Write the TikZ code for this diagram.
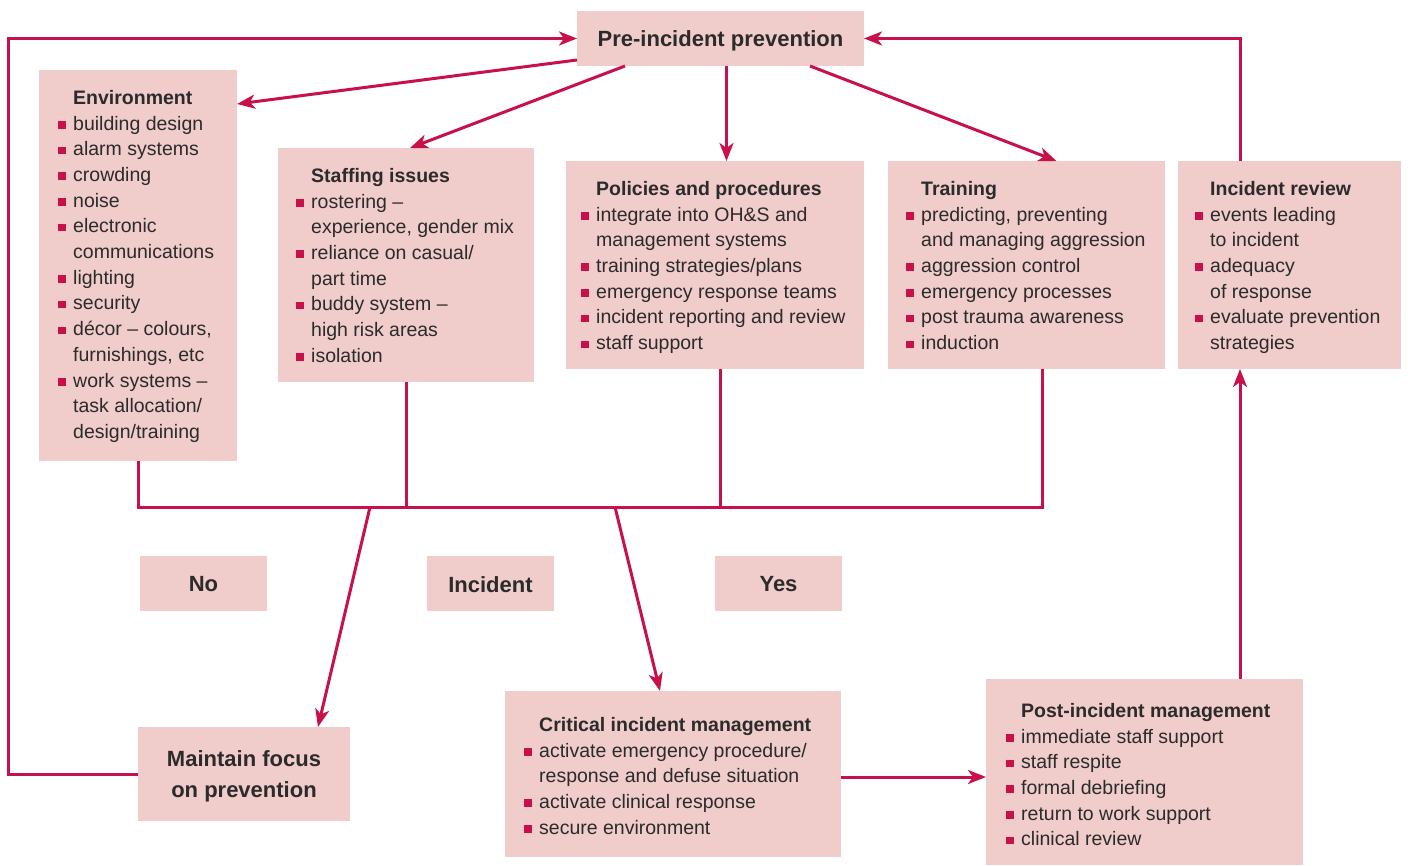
\documentclass[tikz,border=0pt]{standalone}
\usepackage{fontspec}
\setmainfont{Liberation Sans}
\usetikzlibrary{arrows.meta,fit,calc}
\definecolor{crim}{HTML}{C8104A}
\definecolor{pinkbox}{HTML}{F0CCCA}
\definecolor{ink}{HTML}{2B2B2B}
\newcommand{\bu}{\makebox[15pt][l]{\textcolor{crim}{\rule[1.5pt]{7.5pt}{7.5pt}}}}
\newcommand{\ii}{\makebox[15pt][l]{}}
\tikzset{
  box/.style={fill=pinkbox, draw=none, inner sep=0pt, outer sep=0pt},
  txt/.style={anchor=north west, align=left, inner sep=0pt, text=ink,
    font=\fontsize{19.5}{25.7}\selectfont},
  big/.style={text=ink, font=\fontsize{22}{31}\selectfont\bfseries, align=center},
  link/.style={draw=crim, line width=3pt},
  arr/.style={link, -{Stealth[length=18pt,width=14pt,inset=5pt]}},
}
\begin{document}
\begin{tikzpicture}[x=1pt,y=-1pt]
\useasboundingbox (0,0) rectangle (1408,866);
% boxes
\node[box, fit={(577,11)(864,66)}] (pre) {};
\node[big] (preT) at ([yshift=-2pt]pre.center) {Pre-incident prevention};
\node[box, fit={(39,70)(237,461)}] (env) {};
\node[box, fit={(278,148)(534,382)}] (staff) {};
\node[box, fit={(566,161)(864,369)}] (pol) {};
\node[box, fit={(888,161)(1165,369)}] (train) {};
\node[box, fit={(1178,161)(1401,369)}] (rev) {};
\node[box, fit={(140,556)(267,611)}] (no) {};
\node[big] (noT) at ([yshift=-1pt]no.center) {No};
\node[box, fit={(427,556)(554,611)}] (inc) {};
\node[big] (incT) at ([yshift=-1pt]inc.center) {Incident};
\node[box, fit={(715,556)(842,611)}] (yes) {};
\node[big] (yesT) at ([yshift=-1pt]yes.center) {Yes};
\node[box, fit={(138,727)(350,821)}] (maint) {};
\node[big] (maintT) at ([yshift=-2pt]maint.center) {Maintain focus\\on prevention};
\node[box, fit={(505,691)(841,857)}] (crit) {};
\node[box, fit={(986,679)(1303,865)}] (post) {};
% texts
\node[txt] (envT) at (58,90) {\ii\textbf{Environment}\\
\bu building design\\ \bu alarm systems\\ \bu crowding\\ \bu noise\\
\bu electronic\\ \ii communications\\ \bu lighting\\ \bu security\\
\bu décor – colours,\\ \ii furnishings, etc\\ \bu work systems –\\
\ii task allocation/\\ \ii design/training};
\node[txt] (staffT) at (296,168) {\ii\textbf{Staffing issues}\\
\bu rostering –\\ \ii experience, gender mix\\ \bu reliance on casual/\\
\ii part time\\ \bu buddy system –\\ \ii high risk areas\\ \bu isolation};
\node[txt] (polT) at (581,181) {\ii\textbf{Policies and procedures}\\
\bu integrate into OH\&S and\\ \ii management systems\\
\bu training strategies/plans\\ \bu emergency response teams\\
\bu incident reporting and review\\ \bu staff support};
\node[txt] (trainT) at (906,181) {\ii\textbf{Training}\\
\bu predicting, preventing\\ \ii and managing aggression\\
\bu aggression control\\ \bu emergency processes\\
\bu post trauma awareness\\ \bu induction};
\node[txt] (revT) at (1195,181) {\ii\textbf{Incident review}\\
\bu events leading\\ \ii to incident\\ \bu adequacy\\ \ii of response\\
\bu evaluate prevention\\ \ii strategies};
\node[txt] (critT) at (524,717) {\ii\textbf{Critical incident management}\\
\bu activate emergency procedure/\\ \ii response and defuse situation\\
\bu activate clinical response\\ \bu secure environment};
\node[txt] (postT) at (1006,703) {\ii\textbf{Post-incident management}\\
\bu immediate staff support\\ \bu staff respite\\ \bu formal debriefing\\
\bu return to work support\\ \bu clinical review};
% collector
\coordinate (busR) at (1042,507);
\coordinate (j1) at (370,507);
\coordinate (j2) at (615,507);
\coordinate (rx) at (1240,0);
\draw[link] (env.south) |- (busR) -- (train.south -| busR);
\draw[link] (staff.south) -- (staff.south |- busR);
\draw[link] ([xshift=5pt]pol.south) -- ([xshift=5pt]pol.south |- busR);
\draw[arr] (j1) -- ([xshift=74pt]maint.north);
\draw[arr] (j2) -- ([xshift=-13pt]crit.north);
% from pre
\draw[arr] ([yshift=6pt]pre.south west) -- ([yshift=-34pt]env.north east);
\draw[arr] ([xshift=48pt]pre.south west) -- ([xshift=4pt]staff.north);
\draw[arr] ([xshift=6pt]pre.south) -- ([xshift=6pt]pre.south |- pol.north);
\draw[arr] ([xshift=-54pt]pre.south east) -- ([xshift=30pt]train.north);
% loops
\draw[arr] (rev.north -| rx) |- (pre.east);
\draw[arr] (post.north -| rx) -- (rev.south -| rx);
\draw[arr] ([yshift=-3pt]crit.east) -- ([yshift=-3pt]crit.east -| post.west);
\draw[arr] (maint.west) -- ++(-130,0) |- (pre.west);
\end{tikzpicture}
\end{document}
